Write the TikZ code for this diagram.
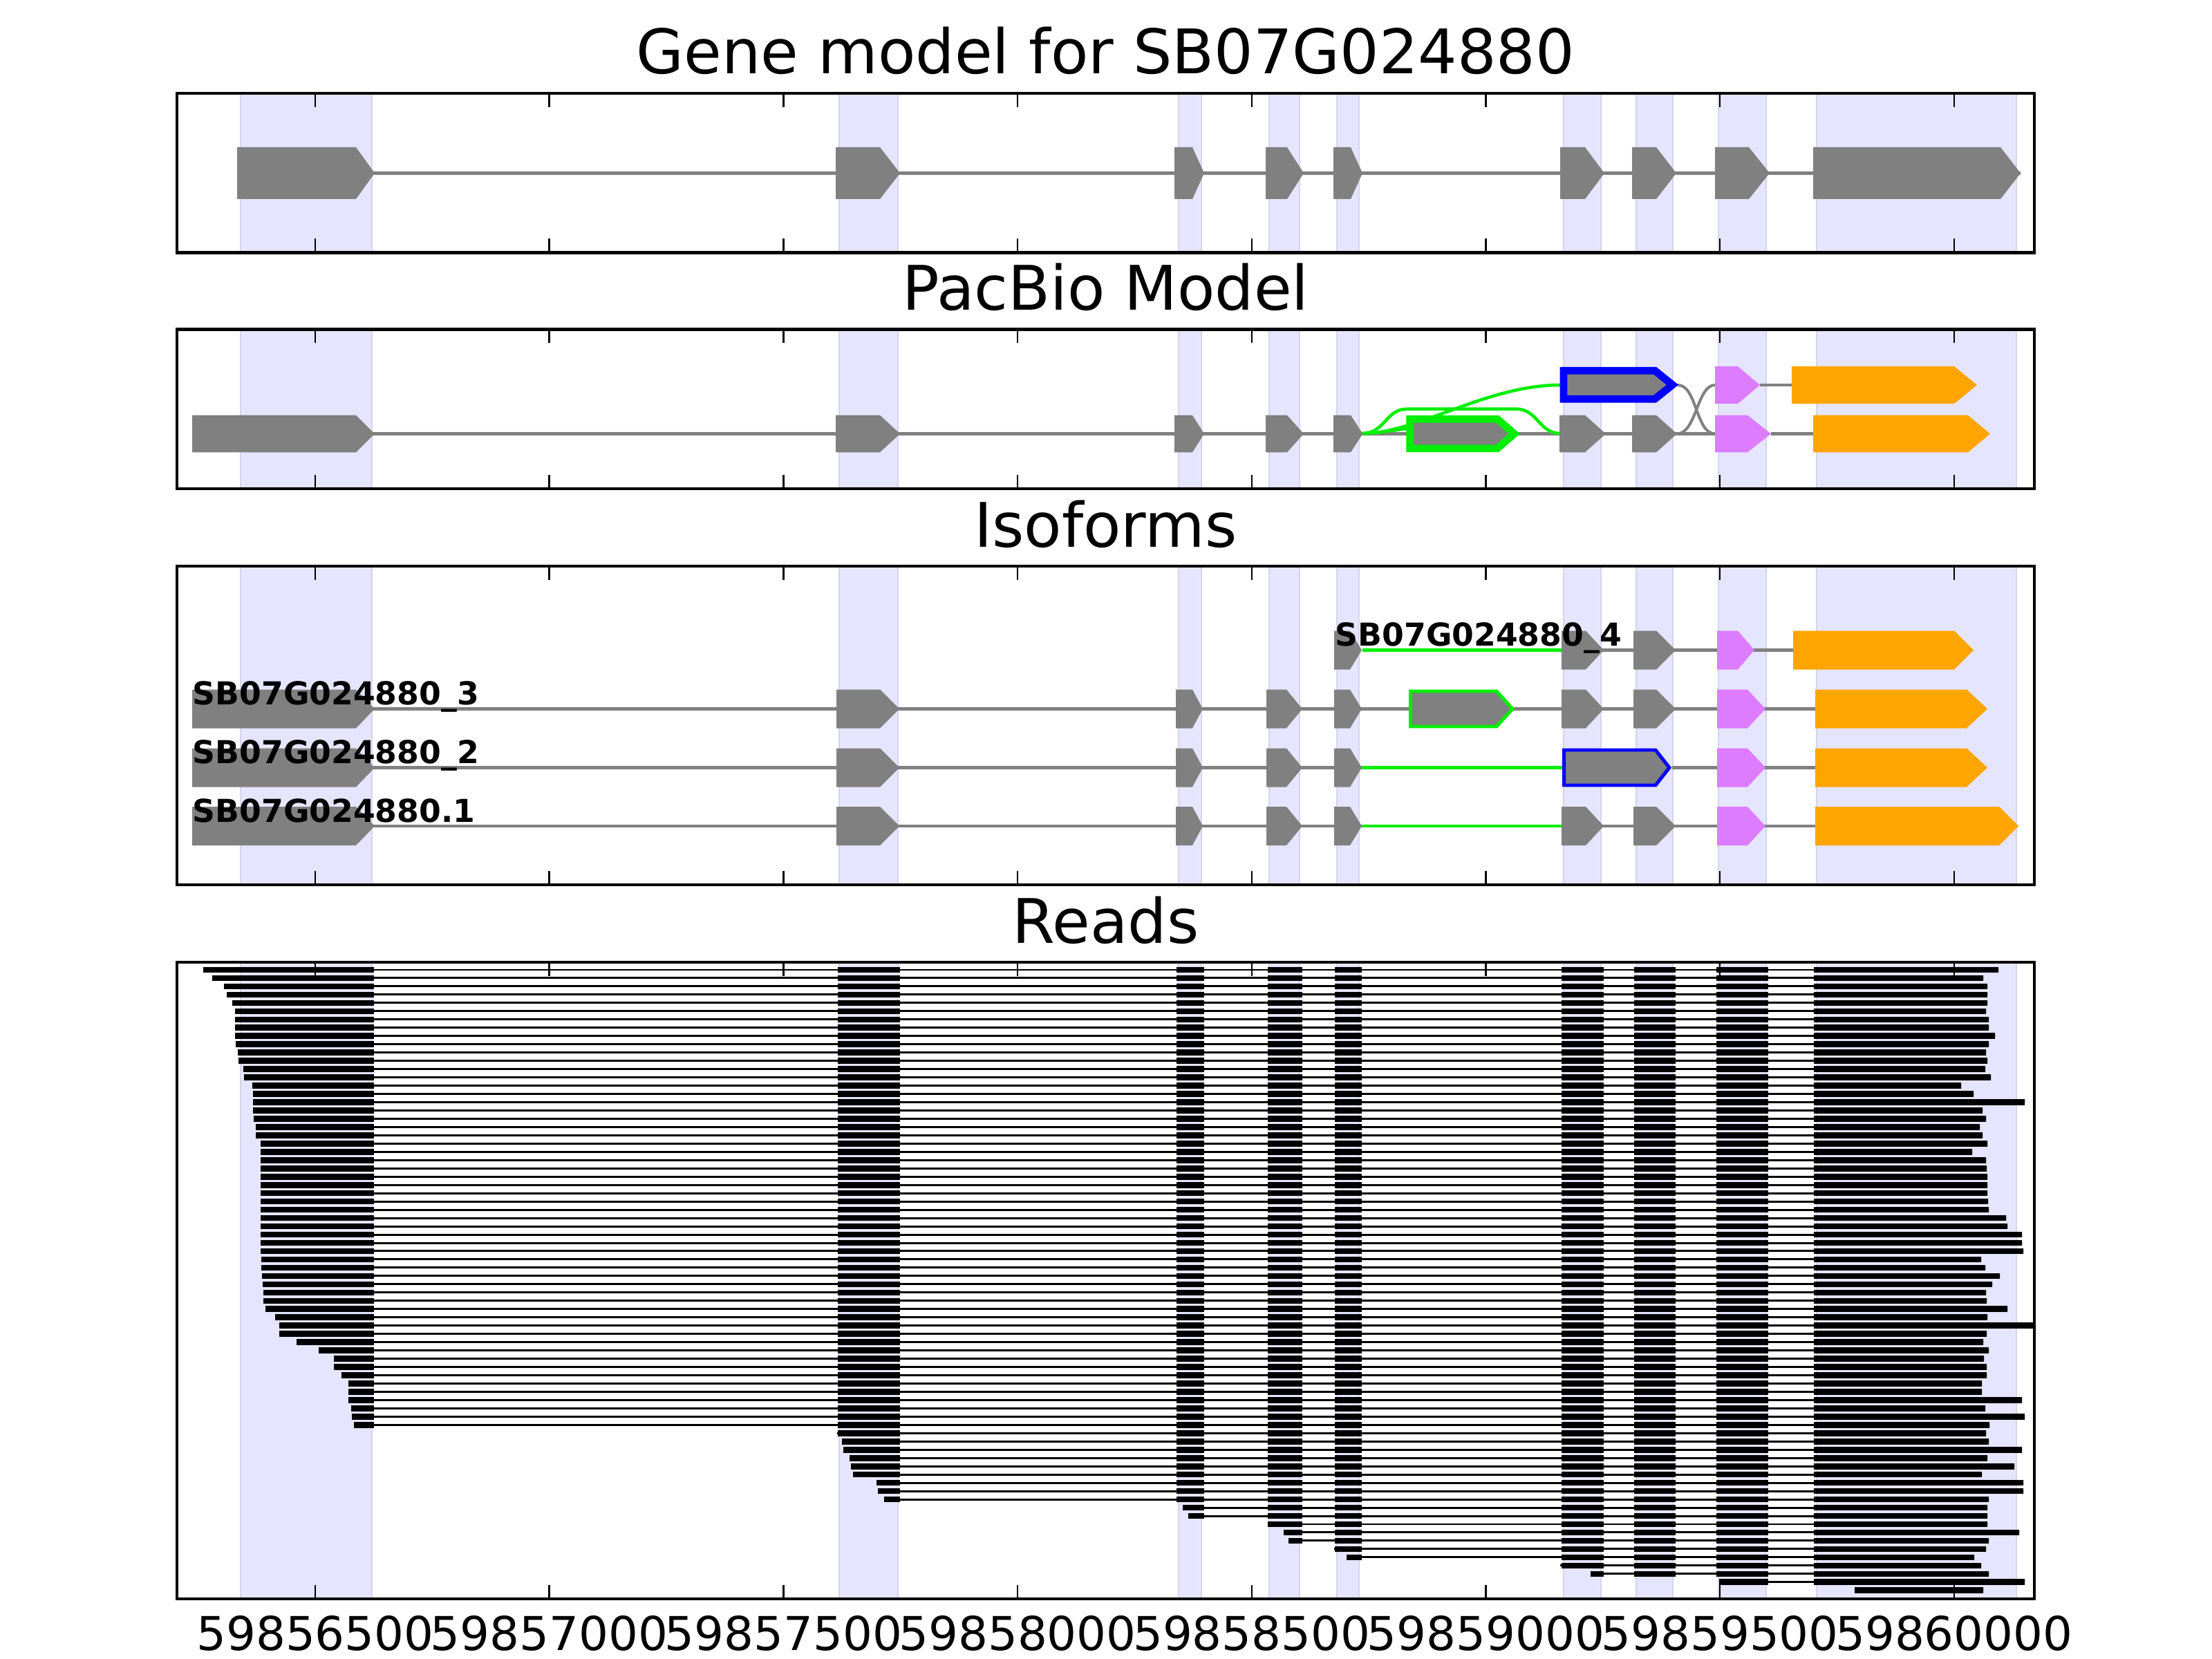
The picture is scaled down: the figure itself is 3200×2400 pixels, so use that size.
\documentclass[tikz,border=0pt]{standalone}
\usepackage{fontspec}
\setmainfont{DejaVu Sans}
\usetikzlibrary{calc}
\definecolor{exongris}{RGB}{128,128,128}
\definecolor{ombre}{RGB}{229,229,255}
\definecolor{ombrebord}{RGB}{212,212,236}
\definecolor{vert}{RGB}{0,238,0}
\definecolor{bleu}{RGB}{0,0,255}
\definecolor{rose}{RGB}{221,124,255}
\definecolor{orangeex}{RGB}{255,165,0}

% exon en fleche : style, gauche, coin, pointe, centre y, demi-hauteur
\newcommand{\exonarrow}[6]{\path[#1] (#2,#5-#6) -- (#3,#5-#6) -- (#4,#5) -- (#3,#5+#6) -- (#2,#5+#6) -- cycle;}
% bandes des exons (haut, bas)
\newcommand{\ombres}[2]{\foreach \xa/\xb in {348/538,1214/1299,1705/1738,1836/1880,1934/1966,2262/2316,2367/2420,2486/2555,2628/2917}
  {\path[shade] (\xa,#1) rectangle (\xb,#2);}}
% cadre et graduations (haut, bas)
\newcommand{\cadre}[2]{\draw[frame] (256,#1) rectangle (2943,#2);
  \foreach \k in {0,...,7} {\draw[tick] ({456+338.7*\k},#1) -- ++(0,20);
    \draw[tick] ({456+338.7*\k},#2) -- ++(0,-20);}}

\begin{document}
\begin{tikzpicture}[x=0.1mm, y=-0.1mm,
    frame/.style={line width=1.4pt},
    tick/.style={line width=0.7pt},
    shade/.style={fill=ombre, draw=ombrebord, line width=0.4pt},
    exonfill/.style={fill=exongris},
    intron/.style={exongris, line width=1.42pt},
    junction/.style={line width=1.3pt},
    title/.style={anchor=base, inner sep=0pt, font=\fontsize{25.3}{30}\selectfont},
    xlab/.style={anchor=base, inner sep=0pt, font=\fontsize{19.2}{22}\selectfont},
    isolab/.style={anchor=base west, inner sep=0pt, font=\fontsize{13}{15}\selectfont\bfseries}]
  \useasboundingbox (0,0) rectangle (3200,2400);

  % titres
  \node[title] (title-gene) at (1599.5,107) {Gene model for SB07G024880};
  \node[title] (title-pacbio) at (1599.5,449) {PacBio Model};
  \node[title] (title-iso) at (1599.5,791) {Isoforms};
  \node[title] (title-reads) at (1599.5,1364) {Reads};

  % panneau 1 : modele de gene
  \ombres{135}{365.5}
  \draw[intron, line width=1.6pt] (343,250.5) -- (2923,250.5);
  \foreach \xl/\xc/\xt in {343/515/542,1209/1273/1302,1699/1725/1742,1831/1862/1886,1929/1954/1971,2257/2293/2321,2361/2396/2425,2481/2530/2560,2623/2894/2923}
    {\exonarrow{exonfill}{\xl}{\xc}{\xt}{250.5}{37.5}}
  \cadre{135}{365.5}

  % panneau 2 : modele PacBio
  \ombres{476.5}{707}
  \draw[intron] (278,627.5) -- (2481,627.5);
  \draw[intron] (2562,627.5) -- (2623,627.5);
  \draw[intron] (2546,557) -- (2592,557);
  \draw[exongris, line width=1.15pt] (2427,557) .. controls (2455,557) and (2453,627.5) .. (2481,627.5);
  \draw[exongris, line width=1.15pt] (2426,627.5) .. controls (2454,627.5) and (2455,557) .. (2481,557);
  \draw[vert, junction] (1971.5,627) .. controls (2050,627) and (2150,557) .. (2257,557);
  \draw[vert, junction] (1971.5,627) .. controls (2003,627) and (2005,591.7) .. (2035,591.7) -- (2193,591.7) .. controls (2225,591.7) and (2226,627) .. (2257,627);
  \draw[vert, junction] (1971.5,627) .. controls (2000,626.5) and (2015,622) .. (2037,620);
  \foreach \xl/\xc/\xt in {278/515/542,1209/1273/1302,1699/1725/1742,1831/1862/1886,1929/1954/1971.5,2256/2293/2323,2361/2396/2426}
    {\exonarrow{exonfill}{\xl}{\xc}{\xt}{627.5}{26.8}}
  \exonarrow{fill=exongris, draw=vert, line width=3.1pt}{2039.8}{2166}{2190.5}{627.5}{21.3}
  \exonarrow{fill=rose}{2481}{2528}{2562}{627.5}{26.8}
  \exonarrow{fill=orangeex}{2623}{2847}{2879}{627.5}{26.8}
  \exonarrow{fill=exongris, draw=bleu, line width=3.1pt}{2262}{2394}{2419.5}{556.7}{20.5}
  \exonarrow{fill=rose}{2481}{2514}{2546}{557}{27}
  \exonarrow{fill=orangeex}{2592}{2827}{2860}{557}{27}
  \cadre{476.5}{707}

  % panneau 3 : isoformes
  \ombres{819}{1280}
  % SB07G024880_4
  \draw[vert, line width=1.42pt] (1971,940.5) -- (2261,940.5);
  \draw[intron] (2261,940.5) -- (2594,940.5);
  \foreach \xl/\xc/\xt in {1930/1953/1970,2259/2294/2320,2363/2396/2424}
    {\exonarrow{exonfill}{\xl}{\xc}{\xt}{940.5}{28}}
  \exonarrow{fill=rose}{2484}{2514}{2538}{940.5}{28}
  \exonarrow{fill=orangeex}{2594}{2827}{2855}{940.5}{28}
  % SB07G024880_3
  \draw[intron] (278,1025.5) -- (2626,1025.5);
  \foreach \xl/\xc/\xt in {278/515/542,1210/1273/1301,1701/1725/1740,1832/1861/1884,1930/1953/1970,2259/2294/2320,2363/2396/2424}
    {\exonarrow{exonfill}{\xl}{\xc}{\xt}{1025.5}{28}}
  \exonarrow{fill=exongris, draw=vert, line width=1.42pt}{2040.5}{2165}{2188}{1025.5}{25.5}
  \exonarrow{fill=rose}{2484}{2528}{2554}{1025.5}{28}
  \exonarrow{fill=orangeex}{2626}{2845}{2875}{1025.5}{28}
  % SB07G024880_2
  \draw[intron] (278,1110.5) -- (1970,1110.5);
  \draw[vert, line width=1.42pt] (1970,1110.5) -- (2260,1110.5);
  \draw[intron] (2419,1110.5) -- (2626,1110.5);
  \foreach \xl/\xc/\xt in {278/515/542,1210/1273/1301,1701/1725/1740,1832/1861/1884,1930/1953/1970}
    {\exonarrow{exonfill}{\xl}{\xc}{\xt}{1110.5}{28}}
  \exonarrow{fill=exongris, draw=bleu, line width=1.42pt}{2262.5}{2395}{2415}{1110.5}{25.5}
  \exonarrow{fill=rose}{2484}{2528}{2554}{1110.5}{28}
  \exonarrow{fill=orangeex}{2626}{2845}{2875}{1110.5}{28}
  % SB07G024880.1
  \draw[intron] (278,1195) -- (1970,1195);
  \draw[vert, line width=1.42pt] (1970,1195) -- (2260,1195);
  \draw[intron] (2260,1195) -- (2626,1195);
  \foreach \xl/\xc/\xt in {278/515/542,1210/1273/1301,1701/1725/1740,1832/1861/1884,1930/1953/1970,2259/2294/2320,2363/2396/2424}
    {\exonarrow{exonfill}{\xl}{\xc}{\xt}{1195}{28}}
  \exonarrow{fill=rose}{2484}{2528}{2554}{1195}{28}
  \exonarrow{fill=orangeex}{2626}{2892}{2920}{1195}{28}
  \node[isolab] (iso4) at (1931,934) {SB07G024880\_4};
  \node[isolab] (iso3) at (278,1019.5) {SB07G024880\_3};
  \node[isolab] (iso2) at (278,1104.5) {SB07G024880\_2};
  \node[isolab] (iso1) at (278,1189) {SB07G024880.1};
  \cadre{819}{1280}

  % panneau 4 : lectures
  \ombres{1392}{2313}
  \foreach \s/\e [count=\i] in {294/2891,307/2869,324/2875,328/2875,336/2875,340/2873,340/2877,340/2877,340/2886,341/2877,
      344/2873,345/2875,352/2872,353/2880,365/2837,366/2855,366/2929,366/2868,367/2873,370/2864,
      370/2868,377/2875,377/2853,377/2873,377/2874,377/2875,377/2875,377/2875,377/2876,377/2877,
      377/2902,377/2904,377/2925,377/2925,377/2927,378/2866,378/2872,379/2893,380/2882,381/2873,
      381/2874,384/2904,398/2875,404/2943,404/2874,429/2869,461/2877,483/2870,483/2874,494/2874,
      504/2867,504/2867,504/2925,508/2872,509/2929,512/2878,1211/2873,1218/2877,1220/2925,1229/2875,
      1231/2914,1234/2867,1268/2927,1270/2927,1279/2877,1711/2875,1719/2875,1834/2875,1857/2921,1864/2877,
      1930/2873,1948/2856,2257/2866,2301/2877,2487/2929,2683/2869} {
    \pgfmathsetmacro\y{1403+11.97*(\i-1)}
    \begin{scope}
      \clip (\s,\y-7) rectangle (\e,\y+7);
      \draw[line width=0.85pt] (250,\y) -- (2943,\y);
      \foreach \xa/\xb in {250/541,1212/1302,1702/1742,1834/1884,1931/1970,2259/2320,2364/2424,2483/2558,2624/2943}
        {\fill (\xa,\y-4.3) rectangle (\xb,\y+4.3);}
    \end{scope}
  }
  \cadre{1392}{2313}
  \foreach \lab [count=\k from 0] in {59856500,59857000,59857500,59858000,59858500,59859000,59859500,59860000}
    {\node[xlab] (xlab-\k) at ({456+338.7*\k},2387) {\lab};}
\end{tikzpicture}
\end{document}
